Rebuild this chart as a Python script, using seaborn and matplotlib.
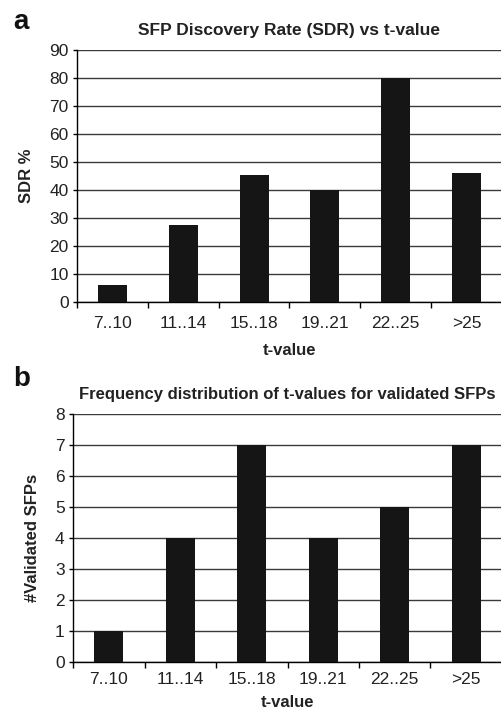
import matplotlib
matplotlib.use("Agg")
import matplotlib.pyplot as plt
import seaborn as sns
import pandas as pd
import numpy as np

categories = ["7..10", "11..14", "15..18", "19..21", "22..25", ">25"]
sdr_values = [6, 27.5, 45.5, 40, 80, 46]
validated_counts = [1, 4, 7, 4, 5, 7]
sdr_yticks = [0, 10, 20, 30, 40, 50, 60, 70, 80, 90]
count_yticks = [0, 1, 2, 3, 4, 5, 6, 7, 8]

sns.set_style("white")
plt.rcParams["font.family"] = ["Liberation Sans", "DejaVu Sans"]

fig = plt.figure(figsize=(5.02, 7.16), dpi=100)
W, H = 502, 716

def make_axes(left, top, bottom):
    return fig.add_axes([left / W, 1 - bottom / H, (W - left) / W, (bottom - top) / H])

ax_a = make_axes(77, 50, 302)
ax_b = make_axes(73, 414, 662)

bar_color = "#151515"
grid_color = "#3a3a3a"

def style(ax, values, yticks, title, ylabel, title_size, xpad, xlabelpad):
    df = pd.DataFrame({"t": categories, "v": values})
    sns.barplot(data=df, x="t", y="v", ax=ax, color=bar_color, width=0.41,
                saturation=1, order=categories, zorder=3, linewidth=0, edgecolor=bar_color)
    ax.set_xlim(-0.5, len(categories) - 0.5)
    ax.set_ylim(yticks[0], yticks[-1])
    ax.set_yticks(yticks)
    ax.set_axisbelow(True)
    ax.yaxis.grid(True, color=grid_color, linewidth=1.0)
    ax.xaxis.grid(False)
    for s in ["top", "right"]:
        ax.spines[s].set_visible(False)
    ax.spines["left"].set_color("black")
    ax.spines["bottom"].set_color("black")
    ax.spines["left"].set_linewidth(1.0)
    ax.spines["bottom"].set_linewidth(1.0)
    ax.set_xticks(np.arange(-0.5, len(categories), 1.0), minor=True)
    ax.tick_params(axis="x", which="major", length=0, pad=xpad, labelsize=12.5, colors="#222222")
    ax.tick_params(axis="x", which="minor", length=4, width=1, direction="out", color="black", bottom=True)
    ax.tick_params(axis="y", which="major", length=3, width=1, direction="out", color="black",
                   left=True, pad=3, labelsize=12.5, labelcolor="#222222")
    ax.set_xlabel("t-value", fontsize=12, fontweight="bold", labelpad=xlabelpad, color="#222222")
    ax.set_ylabel(ylabel, fontsize=12, fontweight="bold", labelpad=11, color="#222222")
    ax.set_title(title, fontsize=title_size, fontweight="bold", pad=11, color="#222222")

style(ax_a, sdr_values, sdr_yticks, "SFP Discovery Rate (SDR) vs t-value", "SDR %", 12.5, 10, 9)
style(ax_b, validated_counts, count_yticks, "Frequency distribution of t-values for validated SFPs",
      "#Validated SFPs", 12, 7, 6)

fig.text(13 / W, 1 - 22 / H, "a", fontsize=20, fontweight="bold", ha="left", va="center", color="#111111")
fig.text(13 / W, 1 - 379 / H, "b", fontsize=20, fontweight="bold", ha="left", va="center", color="#111111")

fig.savefig("out.png", dpi=100)
